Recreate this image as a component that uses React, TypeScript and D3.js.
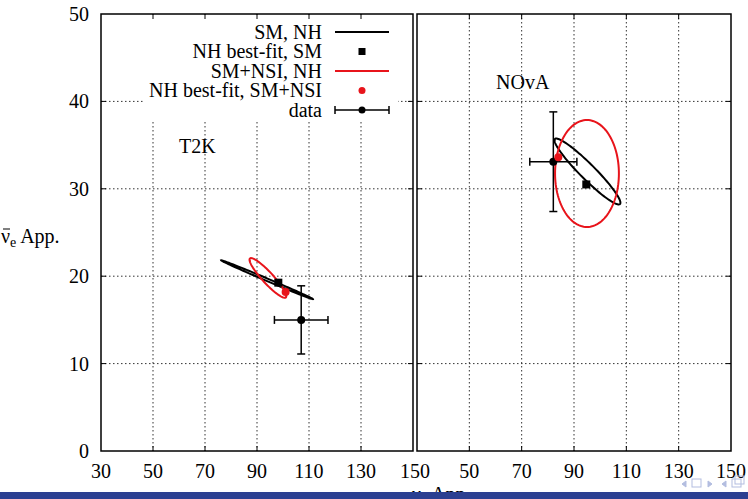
import React from "react";
import * as d3 from "d3";

// axis ticks
const xTicks = [30, 50, 70, 90, 110, 130, 150];
const yTicks = [0, 10, 20, 30, 40, 50];
const panelNames = ["T2K", "NOvA"];

// SM, NH contour (ellipse: centre, major and minor semi-axis vectors, data units)
const smCenter = [[93.85, 19.6], [95.15, 31.98]];
const smMajor = [[17.65, -2.22], [12.42, -3.72]];
const smMinor = [[0.18, 0.13], [-2.03, -0.61]];
// SM+NSI, NH contour
const nsiCenter = [[94.2, 19.8], [94.96, 31.75]];
const nsiMajor = [[6.9, -2.23], [0, 6.12]];
const nsiMinor = [[-1.55, -0.43], [12.2, 0]];
// best fits
const smBest = [[98.2, 19.26], [94.7, 30.5]];
const nsiBest = [[101, 18.2], [84, 33.6]];
// data with errors
const dataX = [107, 82.1];
const dataY = [15.0, 33.1];
const dataXErr = [10.3, 9.0];
const dataYErr = [3.9, 5.7];

const legendLabels = ["SM, NH", "NH best-fit, SM", "SM+NSI, NH", "NH best-fit, SM+NSI", "data"];

const W = 748;
const H = 499;
const top = 14;
const bottom = 451;
const panelX = [[101, 413], [417, 731]];
const font = "'Liberation Serif', 'Times New Roman', serif";
const fs = 20;

function ellipsePath(c: number[], a: number[], b: number[], x: any, y: any) {
  const pts = d3.range(0, 360, 3).map((deg) => {
    const t = (deg * Math.PI) / 180;
    return [c[0] + a[0] * Math.cos(t) + b[0] * Math.sin(t), c[1] + a[1] * Math.cos(t) + b[1] * Math.sin(t)];
  });
  return d3
    .line()
    .x((p: any) => x(p[0]))
    .y((p: any) => y(p[1]))
    .curve(d3.curveLinearClosed)(pts as any);
}

const Panel = ({ i }: { i: number }) => {
  const x = d3.scaleLinear().domain([30, 150]).range(panelX[i]);
  const y = d3.scaleLinear().domain([0, 50]).range([bottom, top]);
  const inner = xTicks.slice(1, -1);
  const innerY = yTicks.slice(1, -1);
  const tl = 5;
  const cap = 4;
  return (
    <g>
      {/* grid */}
      {inner.map((t) => (
        <line key={"gx" + t} x1={x(t)} x2={x(t)} y1={top} y2={bottom} stroke="#333" strokeWidth={1} strokeDasharray="1.5,2.5" />
      ))}
      {innerY.map((t) => (
        <line key={"gy" + t} x1={panelX[i][0]} x2={panelX[i][1]} y1={y(t)} y2={y(t)} stroke="#333" strokeWidth={1} strokeDasharray="1.5,2.5" />
      ))}
      {i === 0 && <rect x={145} y={top + 1} width={253} height={105} fill="#fff" />}
      {/* ticks */}
      {inner.map((t) => (
        <g key={"tx" + t}>
          <line x1={x(t)} x2={x(t)} y1={bottom} y2={bottom - tl} stroke="#000" />
          <line x1={x(t)} x2={x(t)} y1={top} y2={top + tl} stroke="#000" />
        </g>
      ))}
      {innerY.map((t) => (
        <g key={"ty" + t}>
          <line x1={panelX[i][0]} x2={panelX[i][0] + tl} y1={y(t)} y2={y(t)} stroke="#000" />
          <line x1={panelX[i][1]} x2={panelX[i][1] - tl} y1={y(t)} y2={y(t)} stroke="#000" />
        </g>
      ))}
      {/* x tick labels */}
      {xTicks.map((t) =>
        i === 1 && t === 30 ? null : (
          <text key={"lx" + t} x={i === 0 && t === 150 ? x(t) + 2 : x(t)} y={478} textAnchor="middle" style={{ fontFamily: font, fontSize: fs }}>
            {t}
          </text>
        )
      )}
      {/* contours */}
      <path d={ellipsePath(smCenter[i], smMajor[i], smMinor[i], x, y) as string} fill="none" stroke="#000" strokeWidth={2} />
      <path d={ellipsePath(nsiCenter[i], nsiMajor[i], nsiMinor[i], x, y) as string} fill="none" stroke="#e8141b" strokeWidth={2} />
      {/* data */}
      <g stroke="#000" strokeWidth={1.5}>
        <line x1={x(dataX[i] - dataXErr[i])} x2={x(dataX[i] + dataXErr[i])} y1={y(dataY[i])} y2={y(dataY[i])} />
        <line x1={x(dataX[i])} x2={x(dataX[i])} y1={y(dataY[i] - dataYErr[i])} y2={y(dataY[i] + dataYErr[i])} />
        <line x1={x(dataX[i] - dataXErr[i])} x2={x(dataX[i] - dataXErr[i])} y1={y(dataY[i]) - cap} y2={y(dataY[i]) + cap} />
        <line x1={x(dataX[i] + dataXErr[i])} x2={x(dataX[i] + dataXErr[i])} y1={y(dataY[i]) - cap} y2={y(dataY[i]) + cap} />
        <line x1={x(dataX[i]) - cap} x2={x(dataX[i]) + cap} y1={y(dataY[i] - dataYErr[i])} y2={y(dataY[i] - dataYErr[i])} />
        <line x1={x(dataX[i]) - cap} x2={x(dataX[i]) + cap} y1={y(dataY[i] + dataYErr[i])} y2={y(dataY[i] + dataYErr[i])} />
      </g>
      <circle cx={x(dataX[i])} cy={y(dataY[i])} r={4} fill="#000" />
      <rect x={x(smBest[i][0]) - 4} y={y(smBest[i][1]) - 4} width={8} height={8} fill="#000" />
      <circle cx={x(nsiBest[i][0])} cy={y(nsiBest[i][1])} r={4} fill="#e8141b" />
      {/* frame */}
      <rect x={panelX[i][0]} y={top} width={panelX[i][1] - panelX[i][0]} height={bottom - top} fill="none" stroke="#000" strokeWidth={1.5} />
      <text x={i === 0 ? 179 : 496} y={i === 0 ? 153 : 89} style={{ fontFamily: font, fontSize: fs }}>
        {panelNames[i]}
      </text>
    </g>
  );
};

const Legend = () => {
  const rowY = d3.scaleLinear().domain([0, 4]).range([32, 110]);
  const textX = 322;
  const s0 = 335;
  const s1 = 389;
  const mid = 362;
  return (
    <g style={{ fontFamily: font, fontSize: fs }}>
      {legendLabels.map((l, k) => (
        <text key={l} x={textX} y={rowY(k) + 6.5} textAnchor="end">
          {l}
        </text>
      ))}
      <line x1={s0} x2={s1} y1={rowY(0)} y2={rowY(0)} stroke="#000" strokeWidth={2} />
      <rect x={mid - 3.5} y={rowY(1) - 3.5} width={7} height={7} fill="#000" />
      <line x1={s0} x2={s1} y1={rowY(2)} y2={rowY(2)} stroke="#e8141b" strokeWidth={2} />
      <circle cx={mid} cy={rowY(3)} r={3.5} fill="#e8141b" />
      <g stroke="#000" strokeWidth={1.5}>
        <line x1={s0} x2={s1} y1={rowY(4)} y2={rowY(4)} />
        <line x1={s0} x2={s0} y1={rowY(4) - 4} y2={rowY(4) + 4} />
        <line x1={s1} x2={s1} y1={rowY(4) - 4} y2={rowY(4) + 4} />
      </g>
      <circle cx={mid} cy={rowY(4)} r={3.5} fill="#000" />
    </g>
  );
};

export default function App() {
  const y = d3.scaleLinear().domain([0, 50]).range([bottom, top]);
  return (
    <svg width={W} height={H} style={{ position: "absolute", left: 0, top: 0, background: "#fff" }}>
      {yTicks.map((t) => (
        <text key={t} x={89} y={y(t) + 7} textAnchor="end" style={{ fontFamily: font, fontSize: fs }}>
          {t}
        </text>
      ))}
      <line x1={3} x2={10} y1={229} y2={229} stroke="#000" strokeWidth={1} />
      <g style={{ fontFamily: font, fontSize: fs }}>
        <text x={1} y={243}>
          ν<tspan style={{ fontSize: 14 }} dy={4}>e</tspan>
          <tspan dy={-4}> App.</tspan>
        </text>
        <text x={412} y={501}>
          ν<tspan style={{ fontSize: 14 }} dy={4}>e</tspan>
          <tspan dy={-4}> App.</tspan>
        </text>
      </g>
      <Panel i={0} />
      <Panel i={1} />
      <Legend />
      <rect x={0} y={492} width={W} height={7} fill="#2b3f91" />
      <g fill="none" stroke="#b3bde0" strokeWidth={1}>
        <path d="M686,481 l-4,3 l4,3 z" fill="#b3bde0" />
        <rect x={692} y={479} width={9} height={8} />
        <path d="M708,481 l4,3 l-4,3 z" fill="#b3bde0" />
        <path d="M726,481 l-4,3 l4,3 z" fill="#b3bde0" />
        <rect x={732} y={479} width={9} height={8} />
        <rect x={735} y={476} width={9} height={8} />
      </g>
    </svg>
  );
}
